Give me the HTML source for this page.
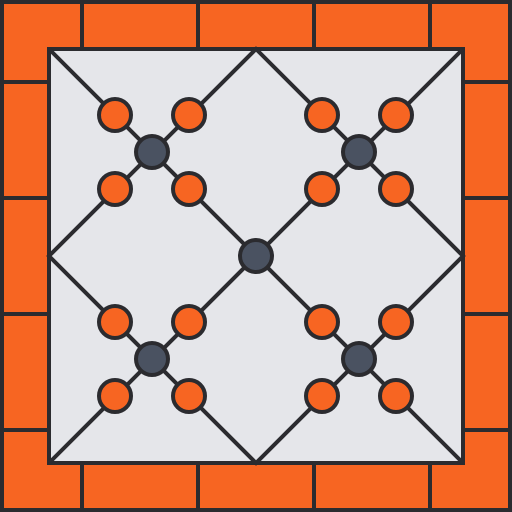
<!DOCTYPE html>
<html><head><meta charset="utf-8"><style>html,body{margin:0;padding:0;background:#fff}svg{display:block}</style></head>
<body>
<svg width="512" height="512" viewBox="0 0 512 512">
  <g stroke="#2b2b2f" stroke-width="4" fill="none">
    <rect x="2" y="2" width="508" height="508" fill="#f76522"/>
    <g>
      <path d="M82 0V49M198 0V49M314 0V49M430 0V49M82 463V512M198 463V512M314 463V512M430 463V512M0 82H49M0 198H49M0 314H49M0 430H49M463 82H512M463 198H512M463 314H512M463 430H512"/>
    </g>
    <rect x="49" y="49" width="414" height="414" fill="#e5e6ea"/>
    <path d="M49 49L463 463M463 49L49 463M256 49L463 256L256 463L49 256Z"/>
  </g>
  <g id="circles" stroke="#2b2b2f" stroke-width="4"></g>
</svg>
<script>
const hubs=[[152,152],[359,152],[152,359],[359,359]];
const g=document.getElementById('circles');
function circ(x,y,fill,name){const c=document.createElementNS('http://www.w3.org/2000/svg','circle');c.setAttribute('cx',x);c.setAttribute('cy',y);c.setAttribute('r',16);c.setAttribute('fill',fill);


g.appendChild(c);}
hubs.forEach(h=>{[[-37,-37],[37,-37],[-37,37],[37,37]].forEach(o=>circ(h[0]+o[0],h[1]+o[1],'#f76522','orange-dot'));circ(h[0],h[1],'#4a5261','hub-dot');});
circ(256,256,'#4a5261','center-dot');
</script>
</body></html>
